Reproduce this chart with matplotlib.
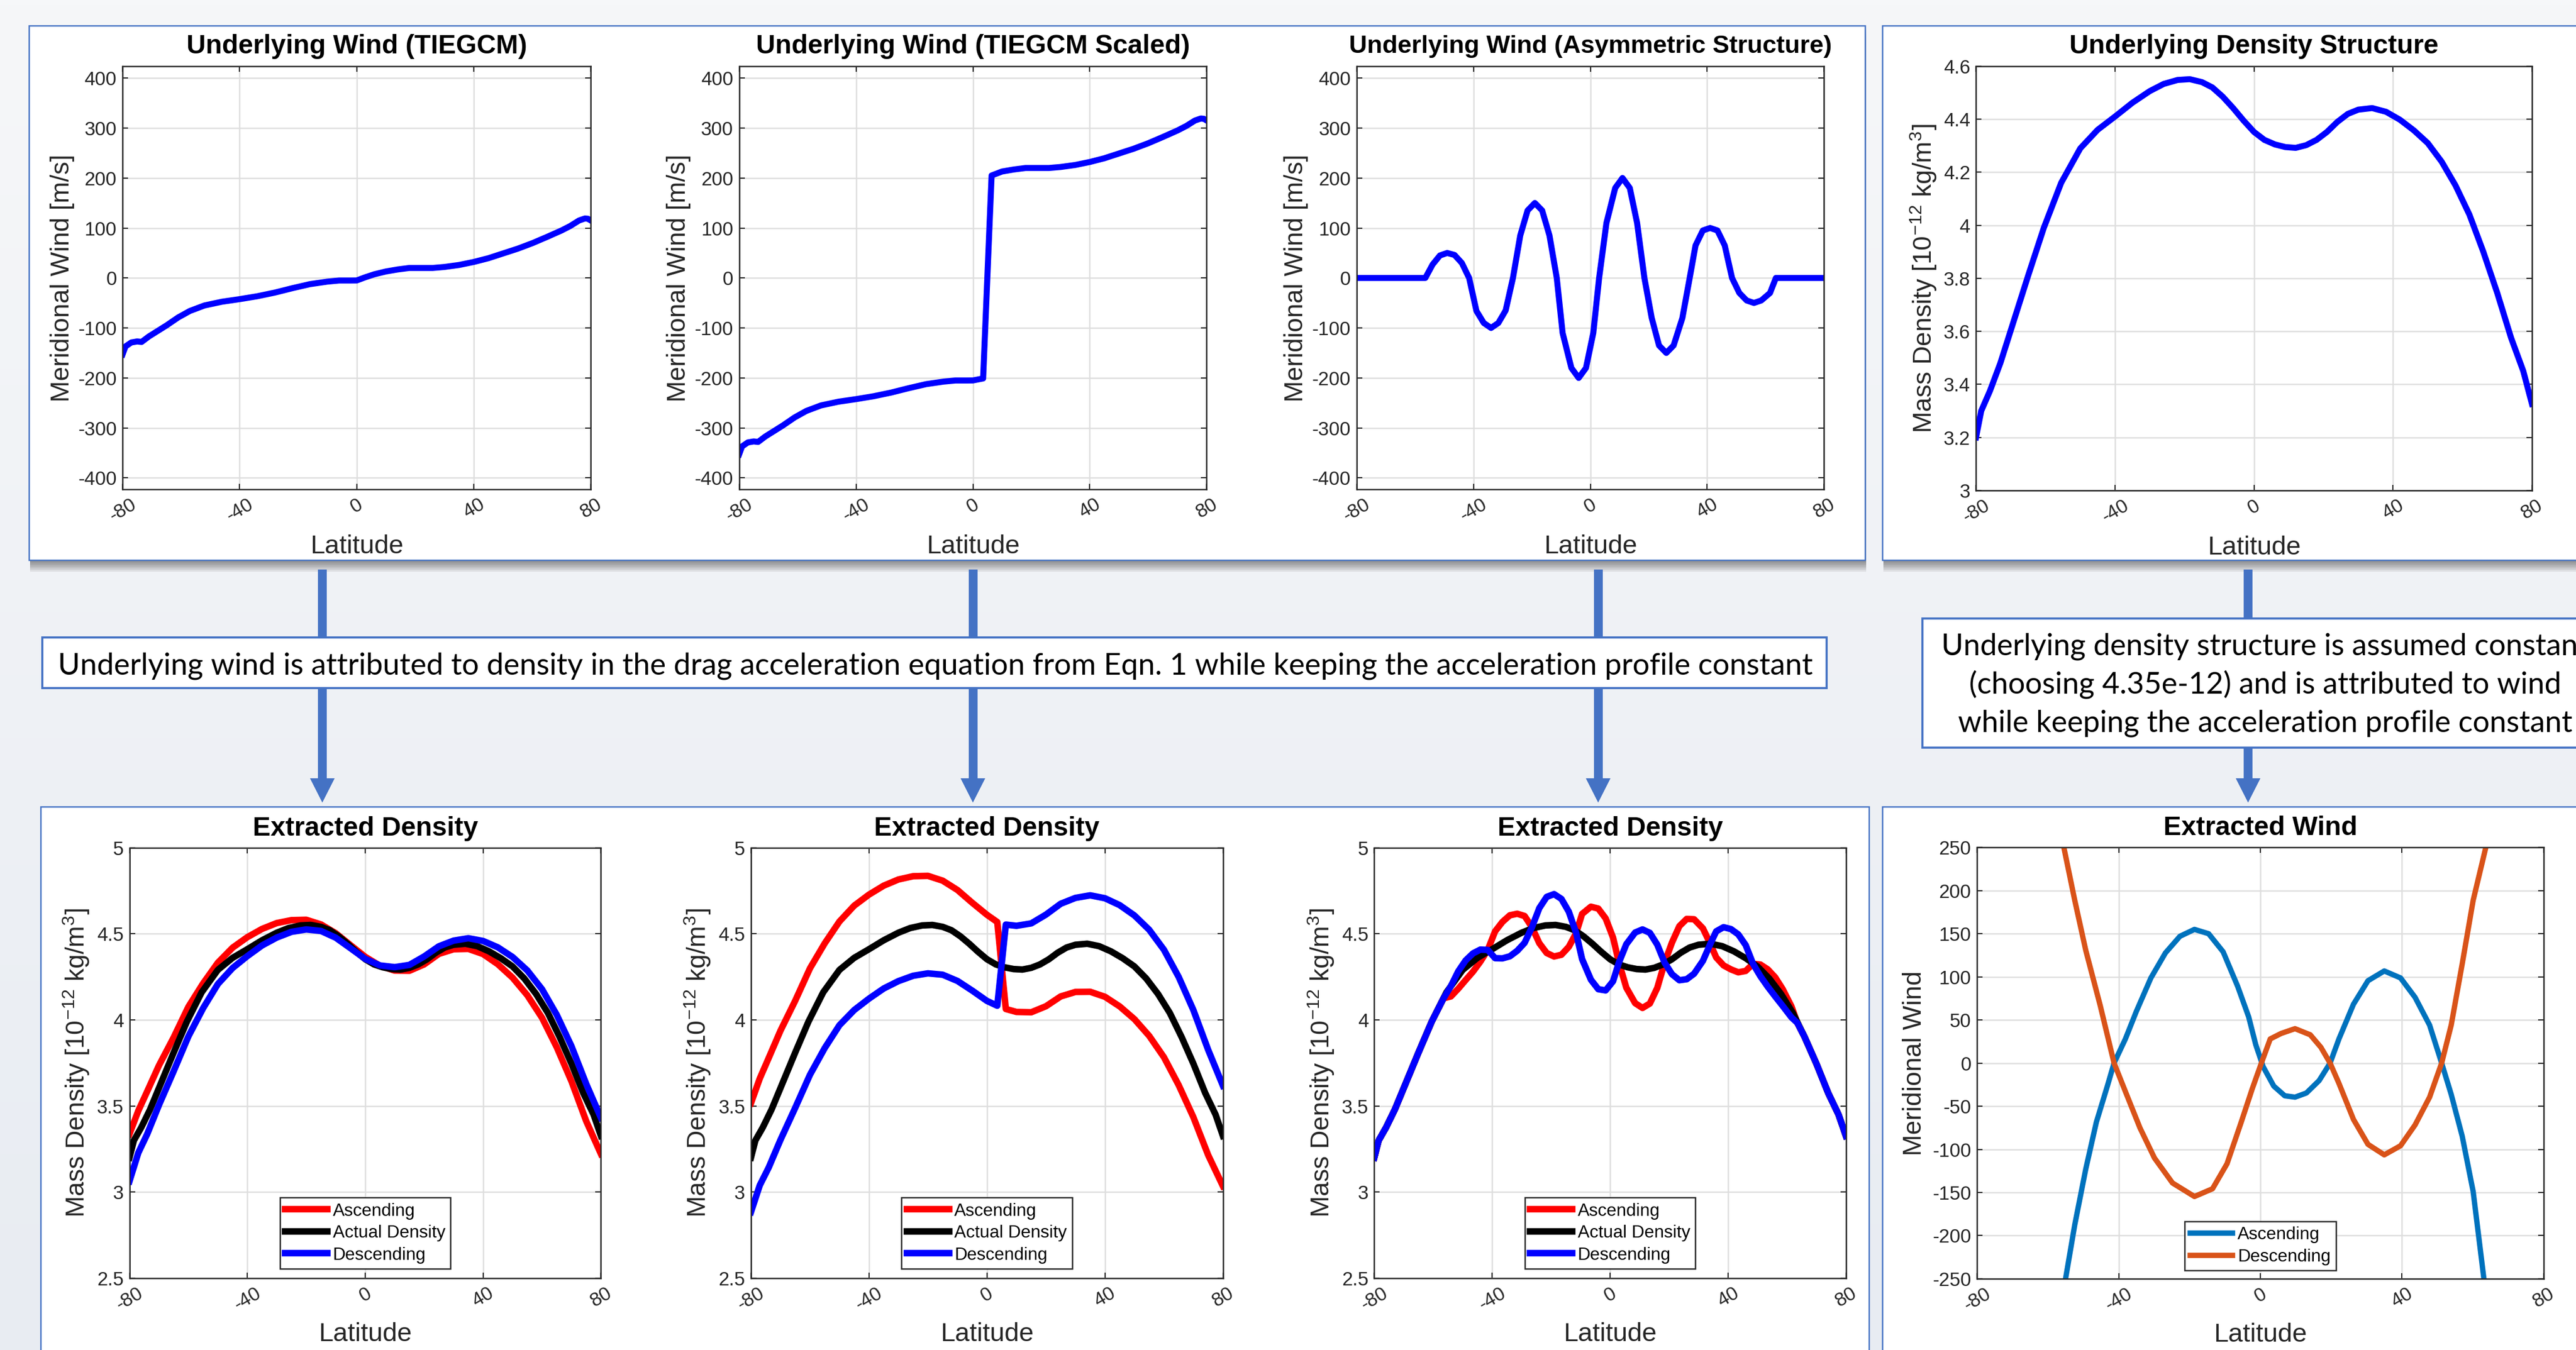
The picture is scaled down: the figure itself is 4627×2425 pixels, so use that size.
import numpy as np
import matplotlib
matplotlib.use('Agg')
import matplotlib.pyplot as plt
from matplotlib.patches import Rectangle, Polygon
from matplotlib.lines import Line2D
from matplotlib.colors import LinearSegmentedColormap

# ---------------- data ----------------
lat1 = [-80, -79, -77, -75, -73.5, -71, -68, -65, -61, -57, -52, -46, -40, -34, -28, -22, -16, -10, -6, -2, 0,
        3, 6, 10, 14, 18, 22, 26, 30, 35, 40, 45, 50, 55, 60, 65, 70, 73, 76, 78, 79, 80]
wind1 = [-153, -137, -129, -127, -128, -117, -106, -95, -79, -66, -55, -47.5, -42.4, -36.6, -29.3, -20.5, -12.4,
         -7.3, -5.1, -5.1, -5, 1.5, 7.3, 13, 17, 20, 20, 20, 22, 26, 32, 39.5, 49, 58.5, 69.5, 82, 95, 104, 115,
         119, 118.5, 115]

lat2 = [-80, -79, -77, -75, -73.5, -71, -68, -65, -61, -57, -52, -46, -40, -34, -28, -22, -16, -10, -6, -2, 0,
        3.5, 6.4, 10, 14, 18, 22, 26, 30, 35, 40, 45, 50, 55, 60, 65, 70, 73, 76, 78, 79, 80]
wind2 = [-353, -337, -329, -327, -328, -317, -306, -295, -279, -266, -255, -247.5, -242.4, -236.6, -229.3, -220.5,
         -212.4, -207.3, -205.1, -205.1, -205, -201, 205, 213, 217, 220, 220, 220, 222, 226, 232, 239.5, 249, 258.5,
         269.5, 282, 295, 304, 315, 319, 318.5, 315]

lat3 = [-80, -56.5, -54, -51.5, -49, -46.5, -44, -41.5, -39, -36.5, -34, -31.5, -29, -26.5, -24, -21.5, -19, -16.5,
        -14, -11.5, -9.5, -6.5, -4, -1.5, 1, 3, 5.5, 8.5, 11, 13.5, 16, 18.5, 21, 23.5, 26, 28.5, 31.5, 34, 36,
        38.5, 41, 43.5, 46, 48.5, 51, 53.5, 56, 58.5, 61.5, 63.5, 80]
wind3 = [0, 0, 27, 45, 50, 46, 30, 0, -66, -90, -100, -90, -65, 0, 85, 135, 150, 135, 85, 0, -110, -180, -200,
         -180, -110, 0, 110, 180, 200, 180, 110, 0, -80, -135, -150, -135, -80, 0, 65, 95, 100, 95, 65, 0, -30,
         -45, -50, -45, -30, 0, 0]

lat_rho = [-80, -78.5, -76, -73, -69, -65, -60.5, -55.5, -50, -45, -40, -35, -30, -26, -22, -18.5, -15, -12, -9,
           -6, -3, 0, 3, 6, 9, 12, 15, 18, 21, 24, 27, 30, 34, 38, 42, 46, 50, 54, 58, 62, 66, 70, 74, 77.5, 80]
rho = [3.20, 3.30, 3.375, 3.48, 3.645, 3.81, 3.99, 4.16, 4.29, 4.36, 4.41, 4.462, 4.506, 4.533, 4.548, 4.551,
       4.540, 4.52, 4.485, 4.442, 4.395, 4.352, 4.322, 4.305, 4.295, 4.292, 4.302, 4.322, 4.352, 4.39, 4.42,
       4.436, 4.442, 4.428, 4.398, 4.358, 4.31, 4.24, 4.15, 4.04, 3.90, 3.745, 3.575, 3.45, 3.326]

lat_b1 = [-80, -77, -74, -70, -65, -60, -55, -50, -45, -40, -35, -30, -25, -20, -15, -10, -5, 0, 5, 10, 15, 20,
          25, 30, 35, 40, 45, 50, 55, 60, 65, 70, 75, 80]
asc1 = [3.337, 3.472, 3.584, 3.735, 3.898, 4.076, 4.212, 4.332, 4.419, 4.48, 4.528, 4.562, 4.579, 4.581, 4.554,
        4.503, 4.434, 4.366, 4.314, 4.286, 4.285, 4.322, 4.383, 4.41, 4.412, 4.382, 4.323, 4.245, 4.143, 4.012,
        3.841, 3.643, 3.412, 3.221]
desc1 = [3.063, 3.228, 3.336, 3.505, 3.702, 3.904, 4.068, 4.208, 4.301, 4.37, 4.432, 4.478, 4.511, 4.525, 4.516,
         4.477, 4.416, 4.354, 4.316, 4.306, 4.319, 4.368, 4.427, 4.46, 4.474, 4.458, 4.421, 4.365, 4.287, 4.178,
         4.029, 3.847, 3.628, 3.431]

lat_b2 = [-80, -77, -74, -70, -65, -60, -55, -50, -45, -40, -35, -30, -25, -20, -15, -10, -5, 0, 3.5, 6.4, 10, 15,
          20, 25, 30, 35, 40, 45, 50, 55, 60, 65, 70, 75, 80]
asc2 = [3.516, 3.66, 3.778, 3.937, 4.111, 4.299, 4.444, 4.571, 4.663, 4.727, 4.779, 4.815, 4.834, 4.836, 4.808,
        4.754, 4.68, 4.61, 4.568, 4.063, 4.046, 4.044, 4.079, 4.136, 4.162, 4.163, 4.134, 4.078, 4.004, 3.907,
        3.783, 3.621, 3.434, 3.2145, 3.0345]
desc2 = [2.884, 3.04, 3.142, 3.303, 3.489, 3.681, 3.836, 3.969, 4.057, 4.123, 4.182, 4.225, 4.256, 4.27, 4.262,
         4.226, 4.17, 4.11, 4.082, 4.553, 4.546, 4.56, 4.611, 4.674, 4.708, 4.723, 4.706, 4.666, 4.606, 4.523,
         4.407, 4.249, 4.056, 3.8255, 3.6175]

lat_b3 = [-80, -78.5, -76, -73, -69, -65, -60.5, -56.5, -54, -51.5, -49, -46.5, -44, -41.5, -39, -36.5, -34, -31.5,
          -29, -26.5, -24, -21.5, -19, -16.5, -14, -11.5, -9.5, -6.5, -4, -1.5, 1, 3, 5.5, 8.5, 11, 13.5, 16, 18.5,
          21, 23.5, 26, 28.5, 31.5, 34, 36, 38.5, 41, 43.5, 46, 48.5, 51, 53.5, 56, 58.5, 61.5, 63.5, 66, 70, 74,
          77.5, 80]
asc3 = [3.20, 3.30, 3.375, 3.48, 3.645, 3.81, 3.99, 4.125, 4.136, 4.181, 4.231, 4.28, 4.338, 4.406, 4.514, 4.569,
        4.607, 4.616, 4.603, 4.538, 4.445, 4.388, 4.368, 4.378, 4.424, 4.504, 4.615, 4.657, 4.646, 4.589, 4.478,
        4.333, 4.187, 4.097, 4.069, 4.095, 4.185, 4.332, 4.449, 4.544, 4.586, 4.584, 4.531, 4.441, 4.362, 4.316,
        4.293, 4.276, 4.284, 4.325, 4.321, 4.293, 4.247, 4.18, 4.079, 3.983, 3.90, 3.745, 3.575, 3.45, 3.326]
desc3 = [3.20, 3.30, 3.375, 3.48, 3.645, 3.81, 3.99, 4.125, 4.196, 4.282, 4.345, 4.386, 4.408, 4.406, 4.358,
         4.357, 4.369, 4.401, 4.447, 4.538, 4.649, 4.714, 4.73, 4.702, 4.628, 4.504, 4.353, 4.233, 4.178, 4.171,
         4.224, 4.333, 4.439, 4.507, 4.525, 4.505, 4.437, 4.332, 4.265, 4.23, 4.236, 4.268, 4.343, 4.441, 4.514,
         4.538, 4.527, 4.496, 4.434, 4.325, 4.253, 4.192, 4.136, 4.082, 4.015, 3.983, 3.90, 3.745, 3.575, 3.45,
         3.326]

lat_asc = [-54.95, -52.4, -49.3, -46.3, -43.2, -41.3, -38.1, -35.0, -30.9, -26.8, -22.7, -18.6, -14.6, -10.5,
           -6.4, -3.3, -1.3, 0.8, 3.8, 6.9, 9.8, 13.0, 16.6, 19.7, 22.2, 26.3, 30.4, 35.0, 39.6, 43.7, 47.8, 51.2,
           53.9, 57.0, 60.1, 63.1]
wind_asc = [-249, -187.5, -123, -68.5, -26.7, 0, 28, 60, 98.7, 127.7, 147, 155, 150, 129, 89, 53.7, 21.5, -4.2,
            -26.7, -37.9, -39.5, -34.7, -20.3, 0, 28, 68.2, 95.5, 106.8, 98.7, 76.2, 44, 0, -36.3, -84.6, -148.9,
            -249]
lat_desc = [-55.5, -52.4, -49.3, -45.2, -41.3, -38.1, -34.0, -29.9, -24.8, -18.6, -13.5, -9.4, -5.4, -2.3, 0.3,
            2.8, 5.9, 9.8, 14.1, 17.1, 19.7, 22.2, 26.3, 30.4, 35.0, 39.6, 43.7, 47.8, 51.2, 53.9, 57.0, 60.1,
            63.7]
wind_desc = [250.5, 188.7, 130.9, 66.6, 0, -33, -75, -110, -139, -154.7, -145.7, -116.7, -68.5, -30, 0, 28,
             34.4, 39.9, 32.8, 18.3, 0, -23.5, -65.3, -94.2, -106.4, -95.8, -71.7, -39.5, 0, 44, 114.8, 188.7,
             250.5]

xticks = [-80, -40, 0, 40, 80]
xticklabels = ['-80', '-40', '0', '40', '80']
wind_ticks = [-400, -300, -200, -100, 0, 100, 200, 300, 400]
rho_ticks_top = [3, 3.2, 3.4, 3.6, 3.8, 4, 4.2, 4.4, 4.6]
rho_ticklabels_top = ['3', '3.2', '3.4', '3.6', '3.8', '4', '4.2', '4.4', '4.6']
rho_ticks_bot = [2.5, 3, 3.5, 4, 4.5, 5]
rho_ticklabels_bot = ['2.5', '3', '3.5', '4', '4.5', '5']
wind_ticks_b4 = [-250, -200, -150, -100, -50, 0, 50, 100, 150, 200, 250]

text_mid = ("Underlying wind is attributed to density in the drag acceleration equation "
            "from Eqn. 1 while keeping the acceleration profile constant")
text_right = ["Underlying density structure is assumed constant",
              "(choosing 4.35e-12) and is attributed to wind",
              "while keeping the acceleration profile constant"]

# ---------------- styling ----------------
plt.rcParams['font.family'] = ['Liberation Sans', 'DejaVu Sans']
plt.rcParams['mathtext.fontset'] = 'custom'
plt.rcParams['mathtext.rm'] = 'Liberation Sans'
plt.rcParams['mathtext.it'] = 'Liberation Sans:italic'
plt.rcParams['mathtext.bf'] = 'Liberation Sans:bold'

W, H = 1568.0, 822.0          # layout reference units
DPI = 300
fig = plt.figure(figsize=(4627 / DPI, 2425 / DPI), dpi=DPI)
BLUE_BOX = '#4472C4'
TXT = '#262626'

bg = fig.add_axes([0, 0, 1, 1], zorder=-10)
bg.set_xlim(0, W)
bg.set_ylim(H, 0)
bg.axis('off')
cmap_bg = LinearSegmentedColormap.from_list('bg', ['#f6f7f9', '#e8ecf2'])
bg.imshow(np.linspace(0, 1, 256)[:, None], aspect='auto', cmap=cmap_bg,
          extent=[0, W, H, 0], origin='upper', zorder=0)


def panel_box(x0, y0, x1, y1, shadow=True):
    if shadow:
        for d in range(1, 8):
            bg.add_patch(Rectangle((x0 + 0.6, y0 + d), x1 - x0, y1 - y0, facecolor='black',
                                   edgecolor='none', alpha=0.07, zorder=1))
    bg.add_patch(Rectangle((x0, y0), x1 - x0, y1 - y0, facecolor='white',
                           edgecolor=BLUE_BOX, lw=0.6, zorder=2))


panel_box(17.6, 15.6, 1135.3, 341)
panel_box(1145.8, 15.6, 1600, 341)
panel_box(24.6, 491, 1137.7, 860, shadow=False)
panel_box(1145.8, 491, 1600, 860, shadow=False)


def arrow(x, y0, y1, head=True):
    lw = 3.8
    if head:
        ytip = y1
        yhead = y1 - 14.8
        bg.add_line(Line2D([x, x], [y0, yhead + 1], color=BLUE_BOX, lw=lw, solid_capstyle='butt', zorder=3))
        bg.add_patch(Polygon([[x - 7.5, yhead], [x + 7.5, yhead], [x, ytip]], closed=True,
                             facecolor=BLUE_BOX, edgecolor='none', zorder=3))
    else:
        bg.add_line(Line2D([x, x], [y0, y1], color=BLUE_BOX, lw=lw, solid_capstyle='butt', zorder=3))


for ax_x in [196.2, 592.2, 972.8]:
    arrow(ax_x, 346.7, 388.2, head=False)
    arrow(ax_x, 419.1, 488.7)
arrow(1368.4, 346.7, 376.5, head=False)
arrow(1368.4, 455.2, 488.7)

# text boxes
bg.add_patch(Rectangle((25.7, 388.2), 1111.7 - 25.7, 419.1 - 388.2, facecolor='white',
                       edgecolor=BLUE_BOX, lw=0.9, zorder=4))
bg.add_patch(Rectangle((1170.3, 376.5), 1600 - 1170.3, 455.2 - 376.5, facecolor='white',
                       edgecolor=BLUE_BOX, lw=0.9, zorder=4))

renderer = fig.canvas.get_renderer()
tfam = ['Lato', 'DejaVu Sans']
t_mid = bg.text(569.5, 410.6, text_mid, ha='center', va='baseline', fontsize=10, family=tfam,
                color='black', zorder=5)
bb = t_mid.get_window_extent(renderer)
t_mid.set_fontsize(10 * (1068.3 * 4627 / W) / bb.width)

t_tmp = bg.text(0, 0, text_right[2], fontsize=10, family=tfam)
bb = t_tmp.get_window_extent(renderer)
fs_right = 10 * (373.7 * 4627 / W) / bb.width
t_tmp.remove()
for s, yb in zip(text_right, [398.7, 422.3, 445.6]):
    bg.text(1378.8, yb, s, ha='center', va='baseline', fontsize=fs_right, family=tfam, color='black',
            zorder=5)


def make_ax(x0, y0, x1, y1):
    return fig.add_axes([x0 / W, 1 - y1 / H, (x1 - x0) / W, (y1 - y0) / H])


def style(ax, title, ylabel, ylim, yticks, yticklabels, ylab_x, xlab_y, title_y, title_fs=11.5):
    ax.set_xlim(-80, 80)
    ax.set_xticks(xticks)
    ax.set_xticklabels(xticklabels, rotation=30, ha='center', va='top')
    ax.set_ylim(*ylim)
    ax.set_yticks(yticks)
    ax.set_yticklabels(yticklabels)
    ax.grid(True, color='#dedede', lw=0.6)
    ax.set_axisbelow(True)
    ax.tick_params(direction='in', length=2.5, width=0.5, top=True, right=True, labelsize=8.3,
                   colors=TXT, pad=2.5)
    for sp in ax.spines.values():
        sp.set_linewidth(0.6)
        sp.set_color(TXT)
    ax.set_title(title, fontsize=title_fs, fontweight='bold', pad=0, y=title_y, va='center', color='black')
    ax.set_ylabel(ylabel, fontsize=11.1, color=TXT, va='center')
    ax.yaxis.set_label_coords(ylab_x, 0.5)
    ax.set_xlabel('Latitude', fontsize=11.3, color=TXT, va='center')
    ax.xaxis.set_label_coords(0.5, xlab_y)


wlabel = 'Meridional Wind [m/s]'
dlabel = 'Mass Density [10$^{-12}$ kg/m$^{3}$]'
WL = 2.6

ax1 = make_ax(74.6, 40.5, 359.6, 298)
ax1.plot(lat1, wind1, color='#0000ff', lw=WL)
style(ax1, 'Underlying Wind (TIEGCM)', wlabel, (-423, 423), wind_ticks, [str(v) for v in wind_ticks],
      -0.128, -0.1355, 1.047)

ax2 = make_ax(449.9, 40.5, 734.5, 298)
ax2.plot(lat2, wind2, color='#0000ff', lw=WL)
style(ax2, 'Underlying Wind (TIEGCM Scaled)', wlabel, (-423, 423), wind_ticks, [str(v) for v in wind_ticks],
      -0.129, -0.1355, 1.047)

ax3 = make_ax(825.8, 40.5, 1110.3, 298)
ax3.plot(lat3, wind3, color='#0000ff', lw=WL)
style(ax3, 'Underlying Wind (Asymmetric Structure)', wlabel, (-423, 423), wind_ticks,
      [str(v) for v in wind_ticks], -0.130, -0.1355, 1.047, title_fs=10.8)

ax4 = make_ax(1202.8, 40.3, 1541.2, 298.6)
ax4.plot(lat_rho, rho, color='#0000ff', lw=WL)
style(ax4, 'Underlying Density Structure', dlabel, (3, 4.6), rho_ticks_top, rho_ticklabels_top,
      -0.094, -0.1355, 1.047)

DL = 2.8
for rect, la, a, d in [((78.8, 516.1, 365.8, 778.3), lat_b1, asc1, desc1),
                       ((457.1, 516.1, 744.4, 778.3), lat_b2, asc2, desc2),
                       ((836.5, 516.1, 1123.6, 778.3), lat_b3, asc3, desc3)]:
    ax = make_ax(*rect)
    l1, = ax.plot(la, a, color='#ff0000', lw=DL)
    l2, = ax.plot(lat_rho, rho, color='black', lw=DL)
    l3, = ax.plot(la, d, color='#0000ff', lw=DL)
    style(ax, 'Extracted Density', dlabel, (2.5, 5), rho_ticks_bot, rho_ticklabels_bot,
          -0.113, -0.131, 1.0446)
    leg = ax.legend([l1, l2, l3], ['Ascending', 'Actual Density', 'Descending'], loc='lower center',
                    bbox_to_anchor=(0.5, 0.022), fontsize=7.6, fancybox=False, edgecolor=TXT, framealpha=1,
                    handlelength=2.4, handletextpad=0.3, borderpad=0.3, labelspacing=0.3, borderaxespad=0)
    leg.get_frame().set_linewidth(0.6)

ax8 = make_ax(1203.4, 516, 1548.3, 778.6)
m1, = ax8.plot(lat_asc, wind_asc, color='#0072BD', lw=2.3)
m2, = ax8.plot(lat_desc, wind_desc, color='#D95319', lw=2.3)
style(ax8, 'Extracted Wind', 'Meridional Wind', (-250, 250), wind_ticks_b4, [str(v) for v in wind_ticks_b4],
      -0.110, -0.131, 1.0446)
leg = ax8.legend([m1, m2], ['Ascending', 'Descending'], loc='lower center', bbox_to_anchor=(0.5, 0.019),
                 fontsize=7.6, fancybox=False, edgecolor=TXT, framealpha=1, handlelength=2.4,
                 handletextpad=0.3, borderpad=0.3, labelspacing=0.3, borderaxespad=0)
leg.get_frame().set_linewidth(0.6)

fig.savefig('out.png', dpi=DPI)
